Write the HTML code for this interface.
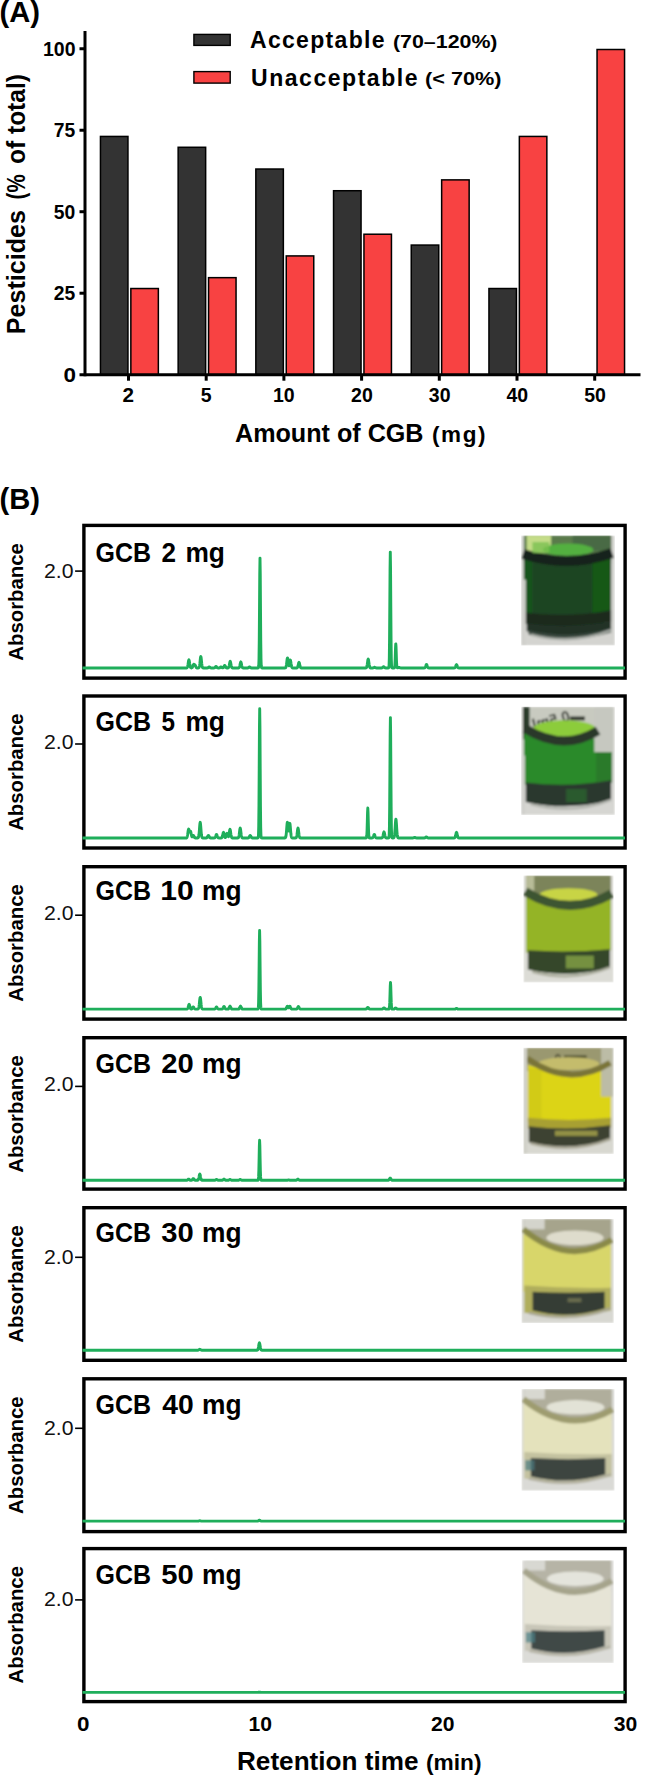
<!DOCTYPE html>
<html><head><meta charset="utf-8"><style>
html,body{margin:0;padding:0;background:#fff;width:645px;height:1778px;overflow:hidden}
svg{display:block}
text{font-family:"Liberation Sans", sans-serif}
</style></head><body>
<svg width="645" height="1778" viewBox="0 0 645 1778">
<defs><filter id="vb" x="-5%" y="-5%" width="110%" height="110%"><feGaussianBlur stdDeviation="1.1"/></filter><clipPath id="vc0"><rect width="93.8" height="110.2"/></clipPath><g id="vial0" clip-path="url(#vc0)"><g filter="url(#vb)"><rect x="0.0" y="0.0" width="93.8" height="110.2" fill="#d4d4d0" opacity="1"/><rect x="2.8" y="0.0" width="87.2" height="27.6" fill="#5a7a4c" opacity="1"/><rect x="5.6" y="0.0" width="24.4" height="17.6" fill="#c4dc88" opacity="1"/><rect x="51.6" y="0.0" width="38.5" height="15.4" fill="#4a6a44" opacity="1"/><path d="M2.8,17.6 Q46.4,31.4 90.0,16.5 L90.0,86.0 Q46.4,98.1 2.8,88.2 Z" fill="#1d4424" opacity="1"/><rect x="2.8" y="24.2" width="8.4" height="55.1" fill="#17581c" opacity="0.9"/><rect x="71.3" y="22.0" width="17.8" height="60.6" fill="#145c18" opacity="0.9"/><ellipse cx="46.9" cy="14.3" rx="25.3" ry="6.1" fill="#52b040" opacity="1"/><path d="M1.9,18.7 Q46.9,33.1 91.0,17.6" fill="none" stroke="#18221a" stroke-width="10" opacity="1"/><rect x="11.3" y="6.6" width="16.9" height="11.0" fill="#7cc050" opacity="0.8"/><path d="M3.8,77.1 Q46.9,82.7 90.0,74.9 L90.0,86.0 Q46.9,93.7 3.8,88.2 Z" fill="#1a2c1e" opacity="1"/><path d="M5.6,88.2 Q47.8,93.7 90.0,86.0 L90.0,93.7 Q47.8,105.8 5.6,95.9 Z" fill="#223026" opacity="1"/><path d="M7.5,94.8 Q48.8,104.7 90.0,92.6 L90.0,97.0 Q48.8,109.1 7.5,99.2 Z" fill="#3a4a40" opacity="1"/><path d="M9.4,99.2 Q51.6,110.2 90.0,94.8" fill="none" stroke="#a8aca6" stroke-width="2.5" opacity="1"/><rect x="0.0" y="44.1" width="4.7" height="66.1" fill="#d0d0cc" opacity="1"/></g></g><clipPath id="vc1"><rect width="93.8" height="108.1"/></clipPath><g id="vial1" clip-path="url(#vc1)"><g filter="url(#vb)"><rect x="0.0" y="0.0" width="93.8" height="108.1" fill="#d6d6d2" opacity="1"/><rect x="1.9" y="0.0" width="90.0" height="32.4" fill="#c8cac0" opacity="1"/><rect x="1.9" y="0.0" width="6.6" height="32.4" fill="#2c3a2c" opacity="1"/><text transform="translate(31.0,18.4) rotate(-14) scale(-1,1)" font-size="15" fill="#2a3028" text-anchor="middle" font-weight="bold" style="font-family:Liberation Sans,sans-serif">0.5ml</text><rect x="48.8" y="9.7" width="15.0" height="3.8" fill="#2a3028" opacity="1"/><path d="M2.8,23.8 Q46.9,38.9 91.0,28.1 L91.0,75.7 Q46.9,83.2 2.8,77.8 Z" fill="#2c8a2c" opacity="1"/><rect x="73.2" y="0.0" width="18.8" height="45.4" fill="#c6c8c0" opacity="1"/><rect x="75.0" y="45.4" width="15.9" height="30.3" fill="#2a7a2a" opacity="1"/><ellipse cx="43.1" cy="21.6" rx="31.0" ry="8.1" fill="#8ccc3a" opacity="1"/><path d="M3.8,21.6 Q42.2,45.4 76.9,23.8" fill="none" stroke="#2a382c" stroke-width="9" opacity="1"/><path d="M4.7,75.7 Q47.4,81.1 90.0,73.5 L90.0,93.0 Q47.4,104.9 4.7,95.1 Z" fill="#2a382e" opacity="1"/><rect x="45.0" y="82.2" width="20.6" height="13.0" fill="#2e6a30" opacity="0.7"/><path d="M9.4,97.3 Q51.6,108.1 90.0,93.0" fill="none" stroke="#b0b2ac" stroke-width="2.5" opacity="1"/><rect x="0.0" y="48.6" width="3.8" height="59.5" fill="#d0d0cc" opacity="1"/></g></g><clipPath id="vc2"><rect width="90.2" height="107.0"/></clipPath><g id="vial2" clip-path="url(#vc2)"><g filter="url(#vb)"><rect x="0.0" y="0.0" width="90.2" height="107.0" fill="#dcdcd6" opacity="1"/><rect x="2.7" y="0.0" width="84.8" height="25.7" fill="#7c845a" opacity="1"/><rect x="2.7" y="0.0" width="8.1" height="19.3" fill="#b8bc98" opacity="1"/><path d="M2.7,21.4 Q45.1,37.5 87.5,23.5 L87.5,74.9 Q45.1,80.2 2.7,77.0 Z" fill="#94b428" opacity="1"/><ellipse cx="45.1" cy="19.3" rx="28.9" ry="6.4" fill="#c8d444" opacity="1"/><path d="M1.8,16.1 Q45.1,42.8 88.4,18.2" fill="none" stroke="#3e5432" stroke-width="9" opacity="1"/><path d="M4.5,74.9 Q45.6,77.6 86.6,73.8 L86.6,92.0 Q45.6,103.8 4.5,94.2 Z" fill="#34462c" opacity="1"/><rect x="42.4" y="80.2" width="28.0" height="12.8" fill="#8aaa48" opacity="0.75"/><path d="M9.0,96.3 Q49.6,107.0 86.6,92.0" fill="none" stroke="#aaac9c" stroke-width="2.5" opacity="1"/></g></g><clipPath id="vc3"><rect width="90.4" height="106.1"/></clipPath><g id="vial3" clip-path="url(#vc3)"><g filter="url(#vb)"><rect x="0.0" y="0.0" width="90.4" height="106.1" fill="#d8d8d0" opacity="1"/><rect x="3.6" y="0.0" width="84.1" height="23.3" fill="#9a9870" opacity="1"/><path d="M4.5,17.0 Q46.1,32.9 87.7,19.1 L87.7,72.1 Q46.1,79.6 4.5,74.3 Z" fill="#dcd412" opacity="1"/><rect x="4.5" y="21.2" width="13.6" height="53.1" fill="#d0c814" opacity="0.8"/><rect x="77.7" y="0.0" width="11.8" height="48.8" fill="#bcbca6" opacity="1"/><text transform="translate(34.4,14.9) rotate(0)" font-size="12" fill="#4a4a30" text-anchor="middle" font-weight="bold" style="font-family:Liberation Sans,sans-serif">0</text><rect x="40.7" y="7.4" width="22.6" height="3.2" fill="#5a5a3a" opacity="1"/><ellipse cx="45.2" cy="15.9" rx="30.7" ry="6.4" fill="#c4bc6c" opacity="1"/><path d="M3.6,10.6 Q45.2,40.3 86.8,14.9" fill="none" stroke="#7a7438" stroke-width="6" opacity="1"/><path d="M4.5,70.0 Q46.1,74.3 87.7,70.0 L87.7,79.6 Q46.1,85.4 4.5,80.6 Z" fill="#a8a032" opacity="1"/><path d="M5.4,78.5 Q46.1,83.3 86.8,77.5 L86.8,92.3 Q46.1,104.0 5.4,94.4 Z" fill="#3c4232" opacity="1"/><rect x="31.6" y="82.8" width="42.5" height="5.3" fill="#a8a448" opacity="0.8"/><path d="M7.2,95.5 Q49.7,106.1 86.8,91.2" fill="none" stroke="#a8a694" stroke-width="2.5" opacity="1"/><rect x="0.0" y="0.0" width="3.6" height="106.1" fill="#d0d0c8" opacity="1"/></g></g><clipPath id="vc4"><rect width="92.3" height="104.2"/></clipPath><g id="vial4" clip-path="url(#vc4)"><g filter="url(#vb)"><rect x="0.0" y="0.0" width="92.3" height="104.2" fill="#d8d8d2" opacity="1"/><rect x="2.8" y="0.0" width="86.8" height="31.3" fill="#a6a48c" opacity="1"/><rect x="2.8" y="0.0" width="20.3" height="10.4" fill="#d4d4cc" opacity="1"/><path d="M1.8,14.6 Q45.7,42.7 89.5,25.0 L89.5,72.9 Q45.7,77.1 1.8,72.9 Z" fill="#d8d66a" opacity="1"/><ellipse cx="53.5" cy="18.8" rx="28.6" ry="7.3" fill="#dedccc" opacity="1"/><path d="M1.8,10.4 Q46.1,47.9 90.5,20.8" fill="none" stroke="#8a8a4a" stroke-width="6" opacity="1"/><path d="M2.8,66.7 Q46.1,69.8 89.5,68.8 L89.5,91.7 Q46.1,101.1 2.8,93.8 Z" fill="#b0ae5c" opacity="1"/><path d="M11.1,72.9 Q47.1,75.0 83.1,72.9 L83.1,89.6 Q47.1,101.1 11.1,91.7 Z" fill="#343c34" opacity="1"/><rect x="46.1" y="79.2" width="13.8" height="4.2" fill="#8a8a60" opacity="0.6"/><path d="M7.4,93.8 Q50.8,104.2 88.6,89.6" fill="none" stroke="#a8a690" stroke-width="2.5" opacity="1"/></g></g><clipPath id="vc5"><rect width="93.1" height="101.8"/></clipPath><g id="vial5" clip-path="url(#vc5)"><g filter="url(#vb)"><rect x="0.0" y="0.0" width="93.1" height="101.8" fill="#dadad6" opacity="1"/><rect x="2.8" y="0.0" width="87.5" height="30.5" fill="#b0ae9c" opacity="1"/><rect x="2.8" y="0.0" width="20.5" height="10.2" fill="#d8d8d0" opacity="1"/><path d="M1.9,14.3 Q46.1,41.7 90.3,24.4 L90.3,69.2 Q46.1,73.3 1.9,69.2 Z" fill="#e4e2bc" opacity="1"/><ellipse cx="54.0" cy="18.3" rx="28.9" ry="7.1" fill="#e2e2d6" opacity="1"/><path d="M1.9,10.2 Q46.6,46.8 91.2,20.4" fill="none" stroke="#9e9c70" stroke-width="6" opacity="1"/><path d="M2.8,63.1 Q46.6,66.2 90.3,65.2 L90.3,87.5 Q46.6,96.7 2.8,89.6 Z" fill="#c4c2a0" opacity="1"/><path d="M9.3,69.2 Q46.6,71.3 83.8,69.2 L83.8,85.5 Q46.6,96.7 9.3,87.5 Z" fill="#3c4440" opacity="1"/><rect x="3.7" y="71.3" width="9.3" height="10.2" fill="#4a7a80" opacity="0.7"/><path d="M7.4,89.6 Q51.2,99.8 89.4,85.5" fill="none" stroke="#b0ae9c" stroke-width="2.5" opacity="1"/></g></g><clipPath id="vc6"><rect width="91.7" height="102.9"/></clipPath><g id="vial6" clip-path="url(#vc6)"><g filter="url(#vb)"><rect x="0.0" y="0.0" width="91.7" height="102.9" fill="#dcdcd8" opacity="1"/><rect x="2.8" y="0.0" width="86.2" height="30.9" fill="#b6b4a6" opacity="1"/><rect x="2.8" y="0.0" width="20.2" height="10.3" fill="#d8d8d2" opacity="1"/><path d="M1.8,14.4 Q45.4,42.2 88.9,24.7 L88.9,70.0 Q45.4,74.1 1.8,70.0 Z" fill="#e6e4d6" opacity="1"/><ellipse cx="53.2" cy="18.5" rx="28.4" ry="7.2" fill="#e4e4dc" opacity="1"/><path d="M1.8,10.3 Q45.8,47.3 89.9,20.6" fill="none" stroke="#a6a48c" stroke-width="6" opacity="1"/><path d="M2.8,63.8 Q45.8,66.9 88.9,65.9 L88.9,88.5 Q45.8,97.8 2.8,90.6 Z" fill="#c8c6b8" opacity="1"/><path d="M9.2,70.0 Q45.8,72.0 82.5,70.0 L82.5,86.4 Q45.8,97.8 9.2,88.5 Z" fill="#404846" opacity="1"/><rect x="3.7" y="72.0" width="9.2" height="10.3" fill="#4a8088" opacity="0.7"/><path d="M7.3,90.6 Q50.4,100.8 88.0,86.4" fill="none" stroke="#b4b2a4" stroke-width="2.5" opacity="1"/></g></g></defs>
<rect x="100.45" y="136.43" width="27.50" height="238.27" fill="#333333" stroke="#000" stroke-width="1.5"/>
<rect x="130.85" y="288.52" width="27.50" height="86.18" fill="#f84242" stroke="#000" stroke-width="1.5"/>
<rect x="178.15" y="147.28" width="27.50" height="227.41" fill="#333333" stroke="#000" stroke-width="1.5"/>
<rect x="208.55" y="277.66" width="27.50" height="97.04" fill="#f84242" stroke="#000" stroke-width="1.5"/>
<rect x="255.85" y="169.03" width="27.50" height="205.67" fill="#333333" stroke="#000" stroke-width="1.5"/>
<rect x="286.25" y="255.92" width="27.50" height="118.78" fill="#f84242" stroke="#000" stroke-width="1.5"/>
<rect x="333.55" y="190.73" width="27.50" height="183.97" fill="#333333" stroke="#000" stroke-width="1.5"/>
<rect x="363.95" y="234.22" width="27.50" height="140.48" fill="#f84242" stroke="#000" stroke-width="1.5"/>
<rect x="411.25" y="245.07" width="27.50" height="129.63" fill="#333333" stroke="#000" stroke-width="1.5"/>
<rect x="441.65" y="179.88" width="27.50" height="194.82" fill="#f84242" stroke="#000" stroke-width="1.5"/>
<rect x="488.95" y="288.52" width="27.50" height="86.18" fill="#333333" stroke="#000" stroke-width="1.5"/>
<rect x="519.35" y="136.43" width="27.50" height="238.27" fill="#f84242" stroke="#000" stroke-width="1.5"/>
<rect x="597.05" y="49.50" width="27.50" height="325.20" fill="#f84242" stroke="#000" stroke-width="1.5"/>
<line x1="85" y1="31" x2="85" y2="376.2" stroke="#000" stroke-width="3"/>
<line x1="79.5" y1="374.7" x2="640.5" y2="374.7" stroke="#000" stroke-width="3"/>
<line x1="79.5" y1="293.21" x2="85" y2="293.21" stroke="#000" stroke-width="3"/>
<line x1="79.5" y1="211.72" x2="85" y2="211.72" stroke="#000" stroke-width="3"/>
<line x1="79.5" y1="130.24" x2="85" y2="130.24" stroke="#000" stroke-width="3"/>
<line x1="79.5" y1="48.75" x2="85" y2="48.75" stroke="#000" stroke-width="3"/>
<line x1="128.50" y1="374.7" x2="128.50" y2="380.7" stroke="#000" stroke-width="3"/>
<text x="122.50" y="401.90" font-size="19.5" font-weight="bold" textLength="11.50" lengthAdjust="spacingAndGlyphs" fill="#000">2</text>
<line x1="206.20" y1="374.7" x2="206.20" y2="380.7" stroke="#000" stroke-width="3"/>
<text x="200.70" y="401.90" font-size="19.5" font-weight="bold" fill="#000">5</text>
<line x1="283.90" y1="374.7" x2="283.90" y2="380.7" stroke="#000" stroke-width="3"/>
<text x="272.90" y="401.90" font-size="19.5" font-weight="bold" fill="#000">10</text>
<line x1="361.60" y1="374.7" x2="361.60" y2="380.7" stroke="#000" stroke-width="3"/>
<text x="351.10" y="401.90" font-size="19.5" font-weight="bold" fill="#000">20</text>
<line x1="439.30" y1="374.7" x2="439.30" y2="380.7" stroke="#000" stroke-width="3"/>
<text x="428.80" y="401.90" font-size="19.5" font-weight="bold" fill="#000">30</text>
<line x1="517.00" y1="374.7" x2="517.00" y2="380.7" stroke="#000" stroke-width="3"/>
<text x="506.50" y="401.90" font-size="19.5" font-weight="bold" fill="#000">40</text>
<line x1="594.70" y1="374.7" x2="594.70" y2="380.7" stroke="#000" stroke-width="3"/>
<text x="584.20" y="401.90" font-size="19.5" font-weight="bold" fill="#000">50</text>
<text x="63.60" y="381.80" font-size="19.5" font-weight="bold" textLength="12.50" lengthAdjust="spacingAndGlyphs" fill="#000">0</text>
<text x="53.80" y="300.31" font-size="19.5" font-weight="bold" textLength="21.50" lengthAdjust="spacingAndGlyphs" fill="#000">25</text>
<text x="53.80" y="218.82" font-size="19.5" font-weight="bold" textLength="21.50" lengthAdjust="spacingAndGlyphs" fill="#000">50</text>
<text x="53.80" y="137.34" font-size="19.5" font-weight="bold" textLength="21.50" lengthAdjust="spacingAndGlyphs" fill="#000">75</text>
<text x="43.00" y="55.85" font-size="19.5" font-weight="bold" textLength="32.50" lengthAdjust="spacingAndGlyphs" fill="#000">100</text>
<text transform="rotate(-90)" x="-334.20" y="24.50" font-size="25" font-weight="bold" textLength="124.10" lengthAdjust="spacingAndGlyphs">Pesticides</text>
<text transform="rotate(-90)" x="-199.40" y="24.50" font-size="25" font-weight="bold" textLength="25.10" lengthAdjust="spacingAndGlyphs">(%</text>
<text transform="rotate(-90)" x="-164.00" y="24.50" font-size="25" font-weight="bold" textLength="89.90" lengthAdjust="spacingAndGlyphs">of total)</text>
<text x="235.00" y="441.80" font-size="25" font-weight="bold" textLength="188.50" lengthAdjust="spacingAndGlyphs" fill="#000">Amount of CGB</text>
<text x="432.00" y="441.80" font-size="22.5" font-weight="bold" textLength="53.50" lengthAdjust="spacing" fill="#000">(mg)</text>
<rect x="193.9" y="34.4" width="36.3" height="11" fill="#333333" stroke="#000" stroke-width="1.4"/>
<rect x="193.9" y="71.6" width="36.3" height="11.5" fill="#f84242" stroke="#000" stroke-width="1.4"/>
<text x="250.00" y="47.80" font-size="23" font-weight="bold" textLength="134.50" lengthAdjust="spacing" fill="#000">Acceptable</text>
<text x="393.00" y="47.60" font-size="18.5" font-weight="bold" textLength="104.50" lengthAdjust="spacingAndGlyphs" fill="#000">(70–120%)</text>
<text x="251.00" y="85.70" font-size="23" font-weight="bold" textLength="166.50" lengthAdjust="spacing" fill="#000">Unacceptable</text>
<text x="425.00" y="85.40" font-size="18.5" font-weight="bold" textLength="76.50" lengthAdjust="spacingAndGlyphs" fill="#000">(&lt; 70%)</text>
<text x="-0.50" y="21.60" font-size="29" font-weight="bold" textLength="40.50" lengthAdjust="spacingAndGlyphs" fill="#000">(A)</text>
<text x="-0.50" y="508.80" font-size="29" font-weight="bold" textLength="40.50" lengthAdjust="spacingAndGlyphs" fill="#000">(B)</text>
<rect x="83.90" y="525.40" width="541.20" height="152.70" fill="#fff" stroke="#000" stroke-width="3.4"/>
<path d="M82.50,668.0 90.50,668.0 98.50,668.0 106.50,668.0 114.50,668.0 122.50,668.0 130.50,668.0 138.50,668.0 146.50,668.0 154.50,668.0 162.50,668.0 170.50,668.0 178.50,668.0 184.90,668.0 185.15,668.0 185.40,668.0 185.65,668.0 185.90,668.0 186.15,668.0 186.40,668.0 186.50,668.0 186.65,668.0 186.90,667.9 187.15,667.6 187.40,667.2 187.65,666.3 187.90,665.0 188.15,663.4 188.40,661.6 188.65,660.3 188.90,659.8 189.15,660.3 189.40,661.6 189.60,663.0 189.65,663.4 189.85,664.7 189.90,665.0 190.10,666.1 190.15,666.3 190.35,667.0 190.40,667.2 190.60,667.6 190.65,667.6 190.85,667.8 190.90,667.9 191.00,667.9 191.10,667.9 191.15,667.9 191.25,668.0 191.35,668.0 191.40,668.0 191.50,668.0 191.60,667.9 191.65,667.9 191.75,667.9 191.85,667.9 191.90,667.8 192.00,667.8 192.10,667.7 192.15,667.6 192.25,667.5 192.35,667.3 192.40,667.3 192.50,667.1 192.60,666.8 192.65,666.7 192.75,666.5 192.85,666.2 192.90,666.0 193.00,665.7 193.10,665.5 193.25,665.1 193.35,664.8 193.50,664.6 193.60,664.4 193.75,664.3 193.85,664.3 194.00,664.3 194.10,664.4 194.25,664.5 194.35,664.5 194.50,664.6 194.60,664.6 194.75,664.7 194.85,664.8 195.00,665.0 195.10,665.1 195.25,665.4 195.35,665.6 195.50,665.9 195.60,666.1 195.75,666.5 195.85,666.7 196.00,667.1 196.10,667.2 196.25,667.5 196.35,667.6 196.50,667.7 196.60,667.8 196.75,667.9 196.80,667.9 196.85,667.9 197.00,668.0 197.05,668.0 197.10,668.0 197.25,668.0 197.30,668.0 197.35,668.0 197.50,668.0 197.55,668.0 197.60,668.0 197.75,668.0 197.80,668.0 198.00,668.0 198.05,668.0 198.25,668.0 198.30,668.0 198.50,667.9 198.55,667.9 198.75,667.8 198.80,667.8 199.00,667.6 199.05,667.5 199.30,666.9 199.55,665.7 199.80,663.9 200.05,661.6 200.30,659.2 200.55,657.3 200.80,656.6 201.05,657.3 201.30,659.2 201.55,661.6 201.80,663.9 202.05,665.7 202.30,666.9 202.50,667.4 202.55,667.5 202.80,667.8 203.05,667.9 203.30,668.0 203.55,668.0 203.80,668.0 204.05,668.0 204.30,668.0 204.55,668.0 204.80,668.0 205.20,668.0 205.45,668.0 205.70,668.0 205.95,668.0 206.20,668.0 206.45,668.0 206.70,668.0 206.95,668.0 207.20,668.0 207.45,668.0 207.70,667.9 207.95,667.8 208.20,667.6 208.45,667.4 208.70,667.1 208.95,667.0 209.20,666.9 209.45,667.0 209.70,667.1 209.95,667.4 210.20,667.6 210.45,667.8 210.50,667.8 210.70,667.9 210.95,668.0 211.20,668.0 211.45,668.0 211.70,668.0 211.95,668.0 212.00,668.0 212.20,668.0 212.25,668.0 212.45,668.0 212.50,668.0 212.70,668.0 212.75,668.0 212.95,668.0 213.00,668.0 213.20,668.0 213.25,668.0 213.50,668.0 213.75,668.0 214.00,668.0 214.25,667.9 214.50,667.8 214.75,667.7 215.00,667.4 215.25,667.1 215.50,666.8 215.75,666.5 216.00,666.4 216.25,666.5 216.50,666.8 216.75,667.1 217.00,667.4 217.25,667.7 217.50,667.8 217.75,667.9 218.00,668.0 218.25,668.0 218.50,668.0 218.75,668.0 219.00,668.0 219.25,668.0 219.50,667.9 219.75,667.8 220.00,667.6 220.25,667.4 220.50,667.1 220.70,667.0 220.75,667.0 220.95,666.9 221.00,666.9 221.20,666.9 221.25,667.0 221.45,667.1 221.50,667.1 221.70,667.3 221.75,667.4 221.95,667.6 222.00,667.6 222.20,667.7 222.25,667.8 222.45,667.9 222.50,667.9 222.70,667.9 222.75,667.9 222.95,667.9 223.00,667.8 223.20,667.7 223.25,667.7 223.45,667.5 223.50,667.4 223.70,667.1 223.75,667.0 223.95,666.5 224.00,666.4 224.20,666.0 224.25,665.9 224.45,665.6 224.50,665.5 224.70,665.4 224.75,665.4 224.95,665.6 225.00,665.6 225.20,666.0 225.45,666.5 225.70,667.1 225.95,667.5 226.20,667.7 226.45,667.9 226.50,667.9 226.70,668.0 226.95,668.0 227.20,668.0 227.45,668.0 227.70,668.0 227.95,668.0 228.20,667.9 228.45,667.7 228.70,667.3 228.95,666.6 229.20,665.6 229.45,664.2 229.70,662.8 229.95,661.7 230.20,661.3 230.45,661.7 230.70,662.8 230.95,664.2 231.20,665.6 231.45,666.6 231.70,667.3 231.95,667.7 232.20,667.9 232.45,668.0 232.70,668.0 232.95,668.0 233.20,668.0 233.45,668.0 233.70,668.0 233.95,668.0 234.20,668.0 234.50,668.0 236.80,668.0 237.05,668.0 237.30,668.0 237.55,668.0 237.80,668.0 238.05,668.0 238.30,668.0 238.55,668.0 238.80,667.9 239.05,667.7 239.30,667.4 239.55,666.8 239.80,665.8 240.05,664.6 240.30,663.3 240.55,662.3 240.80,661.9 241.05,662.3 241.30,663.3 241.55,664.6 241.80,665.8 242.05,666.8 242.30,667.4 242.50,667.7 242.55,667.7 242.80,667.9 243.05,668.0 243.30,668.0 243.55,668.0 243.80,668.0 244.05,668.0 244.30,668.0 244.55,668.0 244.80,668.0 245.50,668.0 245.75,668.0 246.00,668.0 246.25,668.0 246.50,668.0 246.75,668.0 247.00,668.0 247.25,668.0 247.50,668.0 247.75,668.0 248.00,667.9 248.25,667.8 248.50,667.6 248.75,667.4 249.00,667.1 249.25,667.0 249.50,666.9 249.75,667.0 250.00,667.1 250.25,667.4 250.50,667.6 250.75,667.8 251.00,667.9 251.25,668.0 251.50,668.0 251.75,668.0 252.00,668.0 252.25,668.0 252.50,668.0 252.75,668.0 253.00,668.0 253.25,668.0 253.50,668.0 256.00,668.0 256.25,668.0 256.50,668.0 256.75,668.0 257.00,668.0 257.25,668.0 257.50,668.0 257.75,668.0 258.00,668.0 258.25,667.9 258.50,667.6 258.75,665.7 259.00,658.7 259.25,640.6 259.50,608.7 259.75,573.8 260.00,558.1 260.25,573.8 260.50,608.7 260.75,640.6 261.00,658.7 261.25,665.7 261.50,667.6 261.75,667.9 262.00,668.0 262.25,668.0 262.50,668.0 262.75,668.0 263.00,668.0 263.25,668.0 263.50,668.0 263.75,668.0 264.00,668.0 266.50,668.0 274.50,668.0 282.50,668.0 283.50,668.0 283.75,668.0 284.00,668.0 284.25,668.0 284.50,668.0 284.75,668.0 285.00,668.0 285.25,667.9 285.50,667.8 285.75,667.6 286.00,667.0 286.25,665.9 286.30,665.7 286.50,664.4 286.55,664.0 286.75,662.3 286.80,661.9 287.00,660.2 287.05,659.8 287.25,658.5 287.30,658.3 287.50,657.9 287.55,657.9 287.75,658.5 287.80,658.8 288.00,660.1 288.05,660.5 288.25,662.2 288.30,662.6 288.50,664.1 288.55,664.4 288.75,665.3 288.80,665.4 289.00,665.6 289.05,665.5 289.25,665.0 289.30,664.7 289.50,663.7 289.55,663.4 289.75,662.1 289.80,661.8 290.00,660.7 290.05,660.5 290.25,660.0 290.30,660.0 290.50,660.3 290.55,660.5 290.75,661.5 290.80,661.8 291.00,663.1 291.05,663.5 291.25,664.8 291.30,665.1 291.50,666.2 291.55,666.4 291.80,667.2 292.05,667.6 292.30,667.9 292.55,668.0 292.80,668.0 293.05,668.0 293.30,668.0 293.55,668.0 293.80,668.0 294.05,668.0 294.30,668.0 295.00,668.0 295.25,668.0 295.50,668.0 295.75,668.0 296.00,668.0 296.25,668.0 296.50,668.0 296.75,668.0 297.00,667.9 297.25,667.8 297.50,667.4 297.75,666.9 298.00,666.0 298.25,664.8 298.50,663.7 298.75,662.7 299.00,662.4 299.25,662.7 299.50,663.7 299.75,664.8 300.00,666.0 300.25,666.9 300.50,667.4 300.75,667.8 301.00,667.9 301.25,668.0 301.50,668.0 301.75,668.0 302.00,668.0 302.25,668.0 302.50,668.0 302.75,668.0 303.00,668.0 306.50,668.0 314.50,668.0 322.50,668.0 330.50,668.0 338.50,668.0 346.50,668.0 354.50,668.0 362.50,668.0 364.20,668.0 364.45,668.0 364.70,668.0 364.95,668.0 365.20,668.0 365.45,668.0 365.70,668.0 365.95,667.9 366.20,667.8 366.45,667.6 366.70,667.1 366.95,666.2 367.20,664.8 367.45,663.0 367.70,661.1 367.95,659.6 368.20,659.1 368.45,659.6 368.70,661.1 368.95,663.0 369.20,664.8 369.45,666.2 369.70,667.1 369.95,667.6 370.20,667.8 370.45,667.9 370.50,668.0 370.60,668.0 370.70,668.0 370.85,668.0 370.95,668.0 371.10,668.0 371.20,668.0 371.35,668.0 371.45,668.0 371.60,668.0 371.70,668.0 371.85,668.0 371.95,668.0 372.10,668.0 372.20,668.0 372.35,668.0 372.60,668.0 372.85,668.0 373.10,667.9 373.35,667.9 373.60,667.7 373.85,667.6 374.10,667.5 374.35,667.3 374.60,667.3 374.85,667.3 375.10,667.5 375.35,667.6 375.60,667.7 375.85,667.9 376.10,667.9 376.35,668.0 376.60,668.0 376.85,668.0 377.10,668.0 377.35,668.0 377.60,668.0 377.85,668.0 378.10,668.0 378.35,668.0 378.50,668.0 378.60,668.0 379.60,668.0 379.85,668.0 380.10,668.0 380.35,668.0 380.60,668.0 380.85,668.0 381.10,668.0 381.35,668.0 381.60,668.0 381.85,667.9 382.10,667.9 382.35,667.7 382.60,667.5 382.85,667.3 383.10,667.0 383.35,666.8 383.60,666.7 383.85,666.8 384.10,667.0 384.35,667.3 384.60,667.5 384.85,667.7 385.10,667.9 385.35,667.9 385.60,668.0 385.85,668.0 386.10,668.0 386.30,668.0 386.35,668.0 386.50,668.0 386.55,668.0 386.60,668.0 386.80,668.0 386.85,668.0 387.05,668.0 387.10,668.0 387.30,668.0 387.35,668.0 387.55,668.0 387.60,668.0 387.80,668.0 388.05,668.0 388.30,668.0 388.55,667.9 388.80,667.6 389.05,665.6 389.30,658.2 389.55,639.1 389.80,605.5 390.05,568.7 390.30,552.1 390.55,568.7 390.80,605.5 391.05,639.1 391.30,658.2 391.55,665.6 391.80,667.6 392.05,667.9 392.30,668.0 392.55,668.0 392.80,668.0 393.05,668.0 393.30,668.0 393.55,668.0 393.80,668.0 394.05,668.0 394.30,667.9 394.50,667.6 394.55,667.5 394.80,666.0 395.00,663.0 395.05,662.0 395.25,656.6 395.30,655.0 395.50,648.7 395.55,647.3 395.75,644.0 395.80,643.9 396.00,646.2 396.05,647.3 396.25,653.4 396.30,655.0 396.50,660.8 396.55,662.0 396.75,665.4 396.80,666.0 397.00,667.3 397.05,667.5 397.25,667.8 397.30,667.9 397.50,667.9 397.55,667.9 397.75,667.9 397.80,667.9 398.00,667.8 398.05,667.8 398.25,667.7 398.30,667.6 398.50,667.5 398.55,667.5 398.75,667.4 398.80,667.4 399.00,667.4 399.05,667.4 399.25,667.4 399.30,667.5 399.50,667.5 399.55,667.6 399.75,667.7 399.80,667.7 400.00,667.8 400.25,667.9 400.50,667.9 400.75,668.0 401.00,668.0 401.25,668.0 401.50,668.0 401.75,668.0 402.00,668.0 402.25,668.0 402.50,668.0 402.75,668.0 403.00,668.0 410.50,668.0 418.50,668.0 422.50,668.0 422.75,668.0 423.00,668.0 423.25,668.0 423.50,668.0 423.75,668.0 424.00,668.0 424.25,668.0 424.50,667.9 424.75,667.8 425.00,667.6 425.25,667.3 425.50,666.7 425.75,666.0 426.00,665.2 426.25,664.6 426.50,664.4 426.75,664.6 427.00,665.2 427.25,666.0 427.50,666.7 427.75,667.3 428.00,667.6 428.25,667.8 428.50,667.9 428.75,668.0 429.00,668.0 429.25,668.0 429.50,668.0 429.75,668.0 430.00,668.0 430.25,668.0 430.50,668.0 434.50,668.0 442.50,668.0 450.50,668.0 452.50,668.0 452.75,668.0 453.00,668.0 453.25,668.0 453.50,668.0 453.75,668.0 454.00,668.0 454.25,668.0 454.50,667.9 454.75,667.9 455.00,667.7 455.25,667.3 455.50,666.8 455.75,666.1 456.00,665.4 456.25,664.8 456.50,664.6 456.75,664.8 457.00,665.4 457.25,666.1 457.50,666.8 457.75,667.3 458.00,667.7 458.25,667.9 458.50,667.9 458.75,668.0 459.00,668.0 459.25,668.0 459.50,668.0 459.75,668.0 460.00,668.0 460.25,668.0 460.50,668.0 466.50,668.0 474.50,668.0 482.50,668.0 490.50,668.0 498.50,668.0 506.50,668.0 514.50,668.0 522.50,668.0 530.50,668.0 538.50,668.0 546.50,668.0 554.50,668.0 562.50,668.0 570.50,668.0 578.50,668.0 586.50,668.0 594.50,668.0 602.50,668.0 610.50,668.0 618.50,668.0 625.00,668.0" fill="none" stroke="#1fae5b" stroke-width="2.9" stroke-linejoin="round"/>
<line x1="75.1" y1="571.10" x2="83" y2="571.10" stroke="#000" stroke-width="1.6"/>
<text x="44.00" y="577.70" font-size="20.5" textLength="29.50" lengthAdjust="spacingAndGlyphs" fill="#111">2.0</text>
<text x="95.50" y="561.60" font-size="28" font-weight="bold" textLength="55.50" lengthAdjust="spacingAndGlyphs" fill="#000">GCB</text>
<text x="161.50" y="561.60" font-size="28" font-weight="bold" textLength="14.50" lengthAdjust="spacingAndGlyphs" fill="#000">2</text>
<text x="185.40" y="561.60" font-size="27" font-weight="bold" textLength="39.50" lengthAdjust="spacingAndGlyphs" fill="#000">mg</text>
<text transform="rotate(-90)" x="-660.65" y="22.70" font-size="21" font-weight="bold" textLength="117.50" lengthAdjust="spacingAndGlyphs">Absorbance</text>
<g transform="translate(521.1,535.4)"><use href="#vial0"/></g>
<rect x="83.90" y="696.00" width="541.20" height="152.00" fill="#fff" stroke="#000" stroke-width="3.4"/>
<path d="M82.50,838.0 90.50,838.0 98.50,838.0 106.50,838.0 114.50,838.0 122.50,838.0 130.50,838.0 138.50,838.0 146.50,838.0 154.50,838.0 162.50,838.0 170.50,838.0 178.50,838.0 184.60,838.0 184.85,838.0 185.10,838.0 185.35,838.0 185.60,838.0 185.85,838.0 186.10,838.0 186.35,838.0 186.50,837.9 186.60,837.9 186.75,837.7 186.85,837.6 187.00,837.4 187.10,837.1 187.25,836.6 187.35,836.2 187.50,835.5 187.60,834.9 187.75,833.8 187.85,833.1 188.00,832.0 188.10,831.2 188.25,830.3 188.35,829.8 188.50,829.3 188.60,829.1 188.75,829.2 188.85,829.4 189.00,829.9 189.10,830.4 189.25,831.0 189.30,831.2 189.35,831.4 189.50,831.8 189.55,831.9 189.60,832.0 189.75,832.0 189.80,832.0 189.85,831.9 190.00,831.7 190.05,831.6 190.10,831.5 190.25,831.3 190.30,831.2 190.35,831.2 190.50,831.2 190.55,831.2 190.60,831.3 190.75,831.7 190.80,831.9 190.85,832.1 191.00,832.8 191.05,833.1 191.10,833.4 191.25,834.2 191.30,834.5 191.35,834.8 191.50,835.5 191.55,835.7 191.60,835.9 191.75,836.4 191.80,836.6 191.85,836.7 192.00,836.9 192.05,836.9 192.10,836.9 192.25,836.9 192.30,836.8 192.35,836.8 192.50,836.5 192.55,836.4 192.60,836.3 192.75,836.1 192.80,836.0 193.00,835.6 193.05,835.6 193.25,835.4 193.30,835.4 193.50,835.5 193.55,835.6 193.75,835.9 193.80,836.0 194.00,836.4 194.05,836.5 194.25,837.0 194.30,837.1 194.50,837.4 194.55,837.5 194.80,837.7 195.05,837.9 195.30,838.0 195.55,838.0 195.80,838.0 196.05,838.0 196.20,838.0 196.30,838.0 196.45,838.0 196.55,838.0 196.70,838.0 196.80,838.0 196.95,838.0 197.05,838.0 197.20,838.0 197.30,838.0 197.45,838.0 197.70,838.0 197.95,837.9 198.20,837.7 198.45,837.3 198.70,836.4 198.95,834.8 199.20,832.3 199.45,829.2 199.70,825.8 199.95,823.3 200.20,822.3 200.45,823.3 200.70,825.8 200.95,829.2 201.20,832.3 201.45,834.8 201.70,836.4 201.95,837.3 202.20,837.7 202.45,837.9 202.50,837.9 202.70,838.0 202.95,838.0 203.20,838.0 203.45,838.0 203.70,838.0 203.95,838.0 204.20,838.0 204.40,838.0 204.65,838.0 204.90,838.0 205.15,838.0 205.40,838.0 205.65,838.0 205.90,838.0 206.15,838.0 206.40,838.0 206.65,837.9 206.90,837.7 207.15,837.5 207.40,837.1 207.65,836.5 207.90,836.0 208.15,835.6 208.40,835.4 208.65,835.6 208.90,836.0 209.15,836.5 209.40,837.1 209.65,837.5 209.90,837.7 210.15,837.9 210.40,838.0 210.50,838.0 210.65,838.0 210.90,838.0 211.15,838.0 211.40,838.0 211.65,838.0 211.90,838.0 212.15,838.0 212.40,838.0 212.50,838.0 212.75,838.0 213.00,838.0 213.25,838.0 213.50,838.0 213.75,838.0 214.00,838.0 214.25,838.0 214.50,837.9 214.75,837.8 215.00,837.6 215.25,837.3 215.50,836.7 215.75,836.0 216.00,835.2 216.25,834.6 216.50,834.4 216.75,834.6 217.00,835.2 217.25,836.0 217.50,836.7 217.75,837.3 218.00,837.6 218.25,837.8 218.50,837.9 218.75,838.0 219.00,838.0 219.25,838.0 219.50,838.0 219.75,838.0 220.00,838.0 220.25,838.0 220.50,838.0 220.75,838.0 221.00,838.0 221.25,838.0 221.50,837.9 221.75,837.8 222.00,837.4 222.25,836.9 222.50,836.0 222.75,834.8 223.00,833.7 223.25,832.7 223.50,832.4 223.75,832.7 224.00,833.7 224.25,834.8 224.50,836.0 224.75,836.8 225.00,837.4 225.25,837.6 225.50,837.4 225.75,837.0 226.00,836.3 226.25,835.4 226.50,834.4 226.75,833.7 227.00,833.4 227.25,833.7 227.50,834.4 227.75,835.4 228.00,836.2 228.25,836.7 228.50,836.7 228.75,836.0 229.00,834.8 229.25,833.1 229.50,831.3 229.75,829.8 230.00,829.3 230.25,829.8 230.50,831.3 230.75,833.1 231.00,834.9 231.25,836.2 231.50,837.1 231.75,837.6 232.00,837.9 232.25,838.0 232.50,838.0 232.75,838.0 233.00,838.0 233.25,838.0 233.50,838.0 233.75,838.0 234.00,838.0 234.50,838.0 236.20,838.0 236.45,838.0 236.70,838.0 236.95,838.0 237.20,838.0 237.45,838.0 237.70,838.0 237.95,837.9 238.20,837.8 238.45,837.6 238.70,837.0 238.95,836.0 239.20,834.4 239.45,832.4 239.70,830.3 239.95,828.7 240.20,828.1 240.45,828.7 240.70,830.3 240.95,832.4 241.20,834.4 241.45,836.0 241.70,837.0 241.95,837.6 242.20,837.8 242.45,837.9 242.50,838.0 242.70,838.0 242.95,838.0 243.20,838.0 243.45,838.0 243.70,838.0 243.95,838.0 244.20,838.0 246.20,838.0 246.45,838.0 246.70,838.0 246.95,838.0 247.20,838.0 247.45,838.0 247.70,838.0 247.95,838.0 248.20,838.0 248.45,837.9 248.70,837.7 248.95,837.5 249.20,837.1 249.45,836.5 249.70,836.0 249.95,835.6 250.20,835.4 250.45,835.6 250.50,835.6 250.70,836.0 250.95,836.5 251.20,837.1 251.45,837.5 251.70,837.7 251.95,837.9 252.20,838.0 252.45,838.0 252.70,838.0 252.95,838.0 253.20,838.0 253.45,838.0 253.70,838.0 253.95,838.0 254.20,838.0 255.70,838.0 255.95,838.0 256.20,838.0 256.45,838.0 256.70,838.0 256.95,838.0 257.20,838.0 257.45,838.0 257.70,838.0 257.95,837.9 258.20,837.5 258.45,835.3 258.50,834.3 258.70,827.1 258.95,805.8 259.20,768.3 259.45,727.3 259.70,708.8 259.95,727.3 260.20,768.3 260.45,805.8 260.70,827.1 260.95,835.3 261.20,837.5 261.45,837.9 261.70,838.0 261.95,838.0 262.20,838.0 262.45,838.0 262.70,838.0 262.95,838.0 263.20,838.0 263.45,838.0 263.70,838.0 266.50,838.0 274.50,838.0 282.50,838.0 283.40,838.0 283.65,838.0 283.90,838.0 284.15,838.0 284.40,838.0 284.65,838.0 284.90,838.0 285.15,837.9 285.40,837.7 285.65,837.3 285.80,836.8 285.90,836.4 286.05,835.6 286.15,834.8 286.30,833.4 286.40,832.3 286.55,830.5 286.65,829.2 286.80,827.1 286.90,825.8 287.05,824.1 287.15,823.3 287.30,822.4 287.40,822.3 287.55,822.6 287.65,823.1 287.80,824.4 287.90,825.5 288.05,827.2 288.15,828.2 288.30,829.7 288.40,830.4 288.55,831.0 288.65,831.0 288.80,830.6 288.90,830.0 289.05,828.8 289.15,827.8 289.30,826.3 289.40,825.3 289.55,824.2 289.65,823.6 289.80,823.4 289.90,823.5 290.05,824.3 290.15,825.1 290.30,826.7 290.40,827.9 290.50,829.1 290.55,829.8 290.65,831.0 290.80,832.7 290.90,833.8 291.05,835.0 291.15,835.7 291.30,836.5 291.40,836.9 291.55,837.4 291.80,837.8 292.05,837.9 292.30,838.0 292.55,838.0 292.80,838.0 293.05,838.0 293.30,838.0 293.55,838.0 293.80,838.0 294.00,838.0 294.25,838.0 294.50,838.0 294.75,838.0 295.00,838.0 295.25,838.0 295.50,838.0 295.75,837.9 296.00,837.8 296.25,837.6 296.50,837.0 296.75,836.0 297.00,834.4 297.25,832.4 297.50,830.3 297.75,828.7 298.00,828.1 298.25,828.7 298.50,830.3 298.75,832.4 299.00,834.4 299.25,836.0 299.50,837.0 299.75,837.6 300.00,837.8 300.25,837.9 300.50,838.0 300.75,838.0 301.00,838.0 301.25,838.0 301.50,838.0 301.75,838.0 302.00,838.0 306.50,838.0 314.50,838.0 322.50,838.0 330.50,838.0 338.50,838.0 346.50,838.0 354.50,838.0 362.50,838.0 363.80,838.0 364.05,838.0 364.30,838.0 364.55,838.0 364.80,838.0 365.05,838.0 365.30,838.0 365.55,838.0 365.80,838.0 366.05,838.0 366.30,837.9 366.55,837.4 366.80,835.5 367.05,830.5 367.30,821.8 367.55,812.3 367.80,808.0 368.05,812.3 368.30,821.8 368.55,830.5 368.80,835.5 369.05,837.4 369.30,837.9 369.55,838.0 369.80,838.0 370.05,838.0 370.30,838.0 370.50,838.0 370.55,838.0 370.80,838.0 371.05,838.0 371.30,838.0 371.55,838.0 371.80,838.0 372.05,838.0 372.30,837.9 372.55,837.8 372.80,837.6 373.05,837.3 373.30,836.7 373.55,836.0 373.80,835.2 374.05,834.6 374.30,834.4 374.55,834.6 374.80,835.2 375.05,836.0 375.30,836.7 375.55,837.3 375.80,837.6 376.05,837.8 376.30,837.9 376.55,838.0 376.80,838.0 377.05,838.0 377.30,838.0 377.55,838.0 377.80,838.0 378.05,838.0 378.30,838.0 378.50,838.0 380.00,838.0 380.25,838.0 380.50,838.0 380.75,838.0 381.00,838.0 381.25,838.0 381.50,838.0 381.75,838.0 382.00,837.9 382.25,837.7 382.50,837.4 382.75,836.8 383.00,835.8 383.25,834.6 383.50,833.3 383.75,832.3 384.00,831.9 384.25,832.3 384.50,833.3 384.75,834.6 385.00,835.8 385.25,836.8 385.50,837.4 385.75,837.7 386.00,837.9 386.25,838.0 386.40,838.0 386.50,838.0 386.65,838.0 386.75,838.0 386.90,838.0 387.00,838.0 387.15,838.0 387.25,838.0 387.40,838.0 387.50,838.0 387.65,838.0 387.75,838.0 387.90,838.0 388.00,838.0 388.15,838.0 388.40,838.0 388.65,837.9 388.90,837.5 389.15,835.5 389.40,827.8 389.65,808.0 389.90,773.1 390.15,734.8 390.40,717.6 390.65,734.8 390.90,773.1 391.15,808.0 391.40,827.8 391.65,835.5 391.90,837.5 392.15,837.9 392.40,838.0 392.65,838.0 392.90,838.0 393.15,838.0 393.40,838.0 393.65,837.9 393.90,837.7 394.15,837.2 394.40,836.1 394.50,835.4 394.65,834.2 394.90,831.2 395.15,827.4 395.40,823.4 395.65,820.3 395.90,819.1 396.15,820.3 396.40,823.4 396.65,827.4 396.90,831.2 397.15,834.2 397.40,836.1 397.65,837.2 397.90,837.7 398.15,837.9 398.40,838.0 398.65,838.0 398.90,838.0 399.15,838.0 399.40,838.0 399.65,838.0 399.90,838.0 402.50,838.0 410.50,838.0 410.70,838.0 410.95,838.0 411.20,838.0 411.45,838.0 411.70,838.0 411.95,838.0 412.20,838.0 412.45,838.0 412.70,838.0 412.95,838.0 413.20,837.9 413.45,837.9 413.70,837.8 413.95,837.7 414.20,837.5 414.45,837.4 414.70,837.4 414.95,837.4 415.20,837.5 415.45,837.7 415.70,837.8 415.95,837.9 416.20,837.9 416.45,838.0 416.70,838.0 416.95,838.0 417.20,838.0 417.45,838.0 417.70,838.0 417.95,838.0 418.20,838.0 418.45,838.0 418.50,838.0 418.70,838.0 422.30,838.0 422.55,838.0 422.80,838.0 423.05,838.0 423.30,838.0 423.55,838.0 423.80,838.0 424.05,838.0 424.30,838.0 424.55,838.0 424.80,837.9 425.05,837.8 425.30,837.6 425.55,837.4 425.80,837.1 426.05,837.0 426.30,836.9 426.50,836.9 426.55,837.0 426.80,837.1 427.05,837.4 427.30,837.6 427.55,837.8 427.80,837.9 428.05,838.0 428.30,838.0 428.55,838.0 428.80,838.0 429.05,838.0 429.30,838.0 429.55,838.0 429.80,838.0 430.05,838.0 430.30,838.0 434.50,838.0 442.50,838.0 450.50,838.0 452.50,838.0 452.75,838.0 453.00,838.0 453.25,838.0 453.50,838.0 453.75,838.0 454.00,838.0 454.25,838.0 454.50,837.9 454.75,837.8 455.00,837.4 455.25,836.9 455.50,836.0 455.75,834.8 456.00,833.7 456.25,832.7 456.50,832.4 456.75,832.7 457.00,833.7 457.25,834.8 457.50,836.0 457.75,836.9 458.00,837.4 458.25,837.8 458.50,837.9 458.75,838.0 459.00,838.0 459.25,838.0 459.50,838.0 459.75,838.0 460.00,838.0 460.25,838.0 460.50,838.0 466.50,838.0 474.50,838.0 482.50,838.0 490.50,838.0 498.50,838.0 506.50,838.0 514.50,838.0 522.50,838.0 530.50,838.0 538.50,838.0 546.50,838.0 554.50,838.0 562.50,838.0 570.50,838.0 578.50,838.0 586.50,838.0 594.50,838.0 602.50,838.0 610.50,838.0 618.50,838.0 625.00,838.0" fill="none" stroke="#1fae5b" stroke-width="2.9" stroke-linejoin="round"/>
<line x1="75.1" y1="744.00" x2="83" y2="744.00" stroke="#000" stroke-width="1.6"/>
<text x="44.00" y="748.50" font-size="20.5" textLength="29.50" lengthAdjust="spacingAndGlyphs" fill="#111">2.0</text>
<text x="95.50" y="731.40" font-size="28" font-weight="bold" textLength="55.50" lengthAdjust="spacingAndGlyphs" fill="#000">GCB</text>
<text x="161.50" y="731.40" font-size="28" font-weight="bold" textLength="13.50" lengthAdjust="spacingAndGlyphs" fill="#000">5</text>
<text x="185.40" y="731.40" font-size="27" font-weight="bold" textLength="39.50" lengthAdjust="spacingAndGlyphs" fill="#000">mg</text>
<text transform="rotate(-90)" x="-830.85" y="22.70" font-size="21" font-weight="bold" textLength="117.50" lengthAdjust="spacingAndGlyphs">Absorbance</text>
<g transform="translate(521.1,706.8)"><use href="#vial1"/></g>
<rect x="83.90" y="866.70" width="541.20" height="152.40" fill="#fff" stroke="#000" stroke-width="3.4"/>
<path d="M82.50,1009.1 90.50,1009.1 98.50,1009.1 106.50,1009.1 114.50,1009.1 122.50,1009.1 130.50,1009.1 138.50,1009.1 146.50,1009.1 154.50,1009.1 162.50,1009.1 170.50,1009.1 178.50,1009.1 185.10,1009.1 185.35,1009.1 185.60,1009.1 185.85,1009.1 186.10,1009.1 186.35,1009.1 186.50,1009.1 186.60,1009.1 186.85,1009.1 187.10,1009.0 187.35,1008.9 187.60,1008.6 187.85,1008.1 188.10,1007.4 188.35,1006.5 188.60,1005.5 188.85,1004.7 189.10,1004.4 189.30,1004.6 189.35,1004.7 189.55,1005.3 189.60,1005.5 189.80,1006.2 189.85,1006.5 190.05,1007.2 190.10,1007.4 190.30,1008.0 190.35,1008.1 190.55,1008.5 190.60,1008.6 190.80,1008.9 190.85,1008.9 191.05,1009.0 191.10,1009.0 191.30,1009.0 191.35,1009.0 191.55,1009.0 191.60,1009.0 191.80,1008.9 191.85,1008.8 192.05,1008.7 192.10,1008.6 192.30,1008.3 192.35,1008.2 192.55,1007.9 192.60,1007.8 192.80,1007.4 192.85,1007.3 193.05,1007.0 193.10,1007.0 193.30,1006.9 193.55,1007.0 193.80,1007.4 194.05,1007.9 194.30,1008.3 194.50,1008.6 194.55,1008.7 194.80,1008.9 195.05,1009.0 195.30,1009.1 195.55,1009.1 195.80,1009.1 196.05,1009.1 196.20,1009.1 196.30,1009.1 196.45,1009.1 196.55,1009.1 196.70,1009.1 196.80,1009.1 196.95,1009.1 197.05,1009.1 197.20,1009.1 197.30,1009.1 197.45,1009.1 197.70,1009.1 197.95,1009.0 198.20,1008.9 198.45,1008.6 198.70,1007.9 198.95,1006.7 199.20,1004.9 199.45,1002.5 199.70,1000.0 199.95,998.1 200.20,997.4 200.45,998.1 200.70,1000.0 200.95,1002.5 201.20,1004.9 201.45,1006.7 201.70,1007.9 201.95,1008.6 202.20,1008.9 202.45,1009.0 202.50,1009.0 202.70,1009.1 202.95,1009.1 203.20,1009.1 203.45,1009.1 203.70,1009.1 203.95,1009.1 204.20,1009.1 210.50,1009.1 212.50,1009.1 212.75,1009.1 213.00,1009.1 213.25,1009.1 213.50,1009.1 213.75,1009.1 214.00,1009.1 214.25,1009.1 214.50,1009.1 214.75,1009.0 215.00,1008.9 215.25,1008.7 215.50,1008.3 215.75,1007.9 216.00,1007.4 216.25,1007.0 216.50,1006.9 216.75,1007.0 217.00,1007.4 217.25,1007.9 217.50,1008.3 217.75,1008.7 218.00,1008.9 218.25,1009.0 218.50,1009.1 218.75,1009.1 219.00,1009.1 219.25,1009.1 219.50,1009.1 219.75,1009.1 220.00,1009.1 220.25,1009.1 220.50,1009.1 220.75,1009.1 221.00,1009.1 221.25,1009.1 221.50,1009.1 221.75,1009.1 222.00,1009.1 222.25,1009.0 222.50,1008.8 222.75,1008.6 223.00,1008.1 223.25,1007.6 223.50,1007.0 223.75,1006.6 224.00,1006.4 224.25,1006.6 224.50,1007.0 224.75,1007.6 225.00,1008.1 225.25,1008.6 225.50,1008.8 225.75,1009.0 226.00,1009.1 226.25,1009.1 226.50,1009.1 226.75,1009.1 227.00,1009.1 227.25,1009.1 227.50,1009.1 227.75,1009.1 228.00,1009.0 228.25,1009.0 228.50,1008.8 228.75,1008.5 229.00,1008.0 229.25,1007.4 229.50,1006.8 229.75,1006.3 230.00,1006.1 230.25,1006.3 230.50,1006.8 230.75,1007.4 231.00,1008.0 231.25,1008.5 231.50,1008.8 231.75,1009.0 232.00,1009.0 232.25,1009.1 232.50,1009.1 232.75,1009.1 233.00,1009.1 233.25,1009.1 233.50,1009.1 233.75,1009.1 234.00,1009.1 234.50,1009.1 236.50,1009.1 236.75,1009.1 237.00,1009.1 237.25,1009.1 237.50,1009.1 237.75,1009.1 238.00,1009.1 238.25,1009.1 238.50,1009.0 238.75,1009.0 239.00,1008.8 239.25,1008.5 239.50,1008.0 239.75,1007.4 240.00,1006.8 240.25,1006.3 240.50,1006.1 240.75,1006.3 241.00,1006.8 241.25,1007.4 241.50,1008.0 241.75,1008.5 242.00,1008.8 242.25,1009.0 242.50,1009.0 242.75,1009.1 243.00,1009.1 243.25,1009.1 243.50,1009.1 243.75,1009.1 244.00,1009.1 244.25,1009.1 244.50,1009.1 250.50,1009.1 255.60,1009.1 255.85,1009.1 256.10,1009.1 256.35,1009.1 256.60,1009.1 256.85,1009.1 257.10,1009.1 257.35,1009.1 257.60,1009.1 257.85,1009.1 258.10,1008.8 258.35,1007.4 258.50,1005.1 258.60,1002.4 258.85,989.5 259.10,966.7 259.35,941.7 259.60,930.5 259.85,941.7 260.10,966.7 260.35,989.5 260.60,1002.4 260.85,1007.4 261.10,1008.8 261.35,1009.1 261.60,1009.1 261.85,1009.1 262.10,1009.1 262.35,1009.1 262.60,1009.1 262.85,1009.1 263.10,1009.1 263.35,1009.1 263.60,1009.1 266.50,1009.1 274.50,1009.1 282.50,1009.1 283.40,1009.1 283.65,1009.1 283.90,1009.1 284.15,1009.1 284.40,1009.1 284.65,1009.1 284.90,1009.1 285.15,1009.1 285.40,1009.0 285.65,1009.0 285.80,1008.9 285.90,1008.8 286.05,1008.6 286.15,1008.5 286.30,1008.2 286.40,1008.0 286.55,1007.7 286.65,1007.4 286.80,1007.0 286.90,1006.8 287.05,1006.5 287.15,1006.3 287.30,1006.1 287.40,1006.1 287.55,1006.2 287.65,1006.3 287.80,1006.5 287.90,1006.7 288.05,1007.0 288.15,1007.2 288.30,1007.5 288.40,1007.6 288.55,1007.7 288.65,1007.7 288.80,1007.6 288.90,1007.5 289.05,1007.2 289.15,1007.0 289.30,1006.7 289.40,1006.5 289.55,1006.3 289.65,1006.2 289.80,1006.1 289.90,1006.1 290.05,1006.3 290.15,1006.5 290.30,1006.8 290.40,1007.0 290.50,1007.3 290.55,1007.4 290.65,1007.7 290.80,1008.0 290.90,1008.2 291.05,1008.5 291.15,1008.6 291.30,1008.8 291.40,1008.9 291.55,1009.0 291.80,1009.0 292.05,1009.1 292.30,1009.1 292.55,1009.1 292.80,1009.1 293.05,1009.1 293.30,1009.1 293.55,1009.1 293.80,1009.1 294.40,1009.1 294.65,1009.1 294.90,1009.1 295.15,1009.1 295.40,1009.1 295.65,1009.1 295.90,1009.1 296.15,1009.1 296.40,1009.1 296.65,1009.0 296.90,1008.8 297.15,1008.6 297.40,1008.2 297.65,1007.6 297.90,1007.1 298.15,1006.7 298.40,1006.5 298.50,1006.5 298.65,1006.7 298.90,1007.1 299.15,1007.6 299.40,1008.2 299.65,1008.6 299.90,1008.8 300.15,1009.0 300.40,1009.1 300.65,1009.1 300.90,1009.1 301.15,1009.1 301.40,1009.1 301.65,1009.1 301.90,1009.1 302.15,1009.1 302.40,1009.1 306.50,1009.1 314.50,1009.1 322.50,1009.1 330.50,1009.1 338.50,1009.1 346.50,1009.1 354.50,1009.1 362.50,1009.1 363.80,1009.1 364.05,1009.1 364.30,1009.1 364.55,1009.1 364.80,1009.1 365.05,1009.1 365.30,1009.1 365.55,1009.1 365.80,1009.1 366.05,1009.0 366.30,1008.9 366.55,1008.8 366.80,1008.5 367.05,1008.1 367.30,1007.8 367.55,1007.5 367.80,1007.4 368.05,1007.5 368.30,1007.8 368.55,1008.1 368.80,1008.5 369.05,1008.8 369.30,1008.9 369.55,1009.0 369.80,1009.1 370.05,1009.1 370.30,1009.1 370.50,1009.1 370.55,1009.1 370.80,1009.1 371.05,1009.1 371.30,1009.1 371.55,1009.1 371.80,1009.1 378.50,1009.1 380.00,1009.1 380.25,1009.1 380.50,1009.1 380.75,1009.1 381.00,1009.1 381.25,1009.1 381.50,1009.1 381.75,1009.1 382.00,1009.1 382.25,1009.0 382.50,1009.0 382.75,1008.9 383.00,1008.7 383.25,1008.4 383.50,1008.2 383.75,1008.0 384.00,1007.9 384.25,1008.0 384.50,1008.2 384.75,1008.4 385.00,1008.7 385.25,1008.9 385.50,1009.0 385.75,1009.0 386.00,1009.1 386.25,1009.1 386.50,1009.1 386.75,1009.1 387.00,1009.1 387.25,1009.1 387.50,1009.1 387.75,1009.1 388.00,1009.1 388.25,1009.1 388.50,1009.1 388.75,1009.1 389.00,1009.0 389.25,1008.5 389.50,1006.8 389.75,1002.4 390.00,994.7 390.25,986.2 390.50,982.4 390.75,986.2 391.00,994.7 391.25,1002.4 391.50,1006.8 391.60,1007.8 391.75,1008.5 391.85,1008.8 392.00,1009.0 392.10,1009.1 392.25,1009.1 392.35,1009.1 392.50,1009.1 392.60,1009.1 392.75,1009.1 392.85,1009.1 393.00,1009.1 393.10,1009.1 393.25,1009.1 393.35,1009.1 393.50,1009.1 393.60,1009.1 393.75,1009.1 393.85,1009.1 394.00,1009.0 394.10,1009.0 394.25,1008.9 394.35,1008.9 394.50,1008.8 394.60,1008.7 394.85,1008.5 395.10,1008.2 395.35,1008.1 395.60,1008.0 395.85,1008.1 396.10,1008.2 396.35,1008.5 396.60,1008.7 396.85,1008.9 397.10,1009.0 397.35,1009.1 397.60,1009.1 397.85,1009.1 398.10,1009.1 398.35,1009.1 398.60,1009.1 398.85,1009.1 399.10,1009.1 399.35,1009.1 399.60,1009.1 402.50,1009.1 410.50,1009.1 418.50,1009.1 426.50,1009.1 434.50,1009.1 442.50,1009.1 450.50,1009.1 452.50,1009.1 452.75,1009.1 453.00,1009.1 453.25,1009.1 453.50,1009.1 453.75,1009.1 454.00,1009.1 454.25,1009.1 454.50,1009.1 454.75,1009.1 455.00,1009.0 455.25,1009.0 455.50,1008.8 455.75,1008.7 456.00,1008.6 456.25,1008.4 456.50,1008.4 456.75,1008.4 457.00,1008.6 457.25,1008.7 457.50,1008.8 457.75,1009.0 458.00,1009.0 458.25,1009.1 458.50,1009.1 458.75,1009.1 459.00,1009.1 459.25,1009.1 459.50,1009.1 459.75,1009.1 460.00,1009.1 460.25,1009.1 460.50,1009.1 466.50,1009.1 474.50,1009.1 482.50,1009.1 490.50,1009.1 498.50,1009.1 506.50,1009.1 514.50,1009.1 522.50,1009.1 530.50,1009.1 538.50,1009.1 546.50,1009.1 554.50,1009.1 562.50,1009.1 570.50,1009.1 578.50,1009.1 586.50,1009.1 594.50,1009.1 602.50,1009.1 610.50,1009.1 618.50,1009.1 625.00,1009.1" fill="none" stroke="#1fae5b" stroke-width="2.9" stroke-linejoin="round"/>
<line x1="75.1" y1="915.20" x2="83" y2="915.20" stroke="#000" stroke-width="1.6"/>
<text x="44.00" y="920.20" font-size="20.5" textLength="29.50" lengthAdjust="spacingAndGlyphs" fill="#111">2.0</text>
<text x="95.50" y="900.30" font-size="28" font-weight="bold" textLength="55.50" lengthAdjust="spacingAndGlyphs" fill="#000">GCB</text>
<text x="160.20" y="900.30" font-size="28" font-weight="bold" textLength="33.50" lengthAdjust="spacingAndGlyphs" fill="#000">10</text>
<text x="202.10" y="900.30" font-size="27" font-weight="bold" textLength="39.50" lengthAdjust="spacingAndGlyphs" fill="#000">mg</text>
<text transform="rotate(-90)" x="-1001.75" y="22.70" font-size="21" font-weight="bold" textLength="117.50" lengthAdjust="spacingAndGlyphs">Absorbance</text>
<g transform="translate(523.4,875.4)"><use href="#vial2"/></g>
<rect x="83.90" y="1037.70" width="541.20" height="151.40" fill="#fff" stroke="#000" stroke-width="3.4"/>
<path d="M82.50,1180.3 90.50,1180.3 98.50,1180.3 106.50,1180.3 114.50,1180.3 122.50,1180.3 130.50,1180.3 138.50,1180.3 146.50,1180.3 154.50,1180.3 162.50,1180.3 170.50,1180.3 178.50,1180.3 184.60,1180.3 184.85,1180.3 185.10,1180.3 185.35,1180.3 185.60,1180.3 185.85,1180.3 186.10,1180.3 186.35,1180.3 186.50,1180.3 186.60,1180.3 186.85,1180.2 187.10,1180.2 187.35,1180.1 187.60,1179.9 187.85,1179.6 188.10,1179.4 188.35,1179.2 188.60,1179.1 188.85,1179.2 189.10,1179.4 189.30,1179.6 189.35,1179.6 189.55,1179.8 189.60,1179.9 189.80,1180.0 189.85,1180.1 190.05,1180.2 190.10,1180.2 190.30,1180.2 190.35,1180.2 190.55,1180.3 190.60,1180.3 190.80,1180.3 190.85,1180.3 191.05,1180.3 191.10,1180.3 191.30,1180.3 191.35,1180.3 191.55,1180.2 191.60,1180.2 191.80,1180.1 191.85,1180.1 192.05,1180.0 192.10,1179.9 192.30,1179.7 192.35,1179.6 192.55,1179.3 192.60,1179.3 192.80,1179.0 193.05,1178.7 193.30,1178.6 193.55,1178.7 193.80,1179.0 194.05,1179.3 194.30,1179.7 194.50,1179.9 194.55,1180.0 194.80,1180.1 195.05,1180.2 195.30,1180.3 195.55,1180.3 195.80,1180.3 196.05,1180.3 196.30,1180.3 196.55,1180.3 196.80,1180.3 197.05,1180.3 197.30,1180.3 197.55,1180.3 197.80,1180.2 198.05,1180.0 198.30,1179.7 198.55,1179.0 198.80,1178.0 199.05,1176.8 199.30,1175.4 199.55,1174.4 199.80,1174.0 200.05,1174.4 200.30,1175.4 200.55,1176.8 200.80,1178.0 201.05,1179.0 201.30,1179.7 201.55,1180.0 201.80,1180.2 202.05,1180.3 202.30,1180.3 202.50,1180.3 202.55,1180.3 202.80,1180.3 203.05,1180.3 203.30,1180.3 203.55,1180.3 203.80,1180.3 210.50,1180.3 212.50,1180.3 212.75,1180.3 213.00,1180.3 213.25,1180.3 213.50,1180.3 213.75,1180.3 214.00,1180.3 214.25,1180.3 214.50,1180.3 214.75,1180.3 215.00,1180.2 215.25,1180.1 215.50,1180.0 215.75,1179.8 216.00,1179.6 216.25,1179.5 216.50,1179.4 216.75,1179.5 217.00,1179.6 217.25,1179.8 217.50,1180.0 217.75,1180.1 218.00,1180.2 218.25,1180.3 218.50,1180.3 218.75,1180.3 219.00,1180.3 219.25,1180.3 219.50,1180.3 219.75,1180.3 220.00,1180.3 220.25,1180.3 220.50,1180.3 220.75,1180.3 221.00,1180.3 221.25,1180.3 221.50,1180.3 221.75,1180.3 222.00,1180.3 222.25,1180.2 222.50,1180.2 222.75,1180.1 223.00,1179.9 223.25,1179.6 223.50,1179.4 223.75,1179.2 224.00,1179.1 224.25,1179.2 224.50,1179.4 224.75,1179.6 225.00,1179.9 225.25,1180.1 225.50,1180.2 225.75,1180.2 226.00,1180.3 226.25,1180.3 226.50,1180.3 226.75,1180.3 227.00,1180.3 227.25,1180.3 227.50,1180.3 227.75,1180.3 228.00,1180.3 228.25,1180.3 228.50,1180.2 228.75,1180.1 229.00,1180.0 229.25,1179.8 229.50,1179.6 229.75,1179.5 230.00,1179.4 230.25,1179.5 230.50,1179.6 230.75,1179.8 231.00,1180.0 231.25,1180.1 231.50,1180.2 231.75,1180.3 232.00,1180.3 232.25,1180.3 232.50,1180.3 232.75,1180.3 233.00,1180.3 233.25,1180.3 233.50,1180.3 233.75,1180.3 234.00,1180.3 234.50,1180.3 236.20,1180.3 236.45,1180.3 236.70,1180.3 236.95,1180.3 237.20,1180.3 237.45,1180.3 237.70,1180.3 237.95,1180.3 238.20,1180.3 238.45,1180.3 238.70,1180.2 238.95,1180.1 239.20,1180.0 239.45,1179.8 239.70,1179.6 239.95,1179.5 240.20,1179.4 240.45,1179.5 240.70,1179.6 240.95,1179.8 241.20,1180.0 241.45,1180.1 241.70,1180.2 241.95,1180.3 242.20,1180.3 242.45,1180.3 242.50,1180.3 242.70,1180.3 242.95,1180.3 243.20,1180.3 243.45,1180.3 243.70,1180.3 243.95,1180.3 244.20,1180.3 250.50,1180.3 255.60,1180.3 255.85,1180.3 256.10,1180.3 256.35,1180.3 256.60,1180.3 256.85,1180.3 257.10,1180.3 257.35,1180.3 257.60,1180.3 257.85,1180.3 258.10,1180.1 258.35,1179.5 258.50,1178.3 258.60,1176.9 258.85,1170.3 259.10,1158.7 259.35,1145.9 259.60,1140.2 259.85,1145.9 260.10,1158.7 260.35,1170.3 260.60,1176.9 260.85,1179.5 261.10,1180.1 261.35,1180.3 261.60,1180.3 261.85,1180.3 262.10,1180.3 262.35,1180.3 262.60,1180.3 262.85,1180.3 263.10,1180.3 263.35,1180.3 263.60,1180.3 266.50,1180.3 274.50,1180.3 282.50,1180.3 284.60,1180.3 284.85,1180.3 285.10,1180.3 285.35,1180.3 285.60,1180.3 285.85,1180.3 286.10,1180.3 286.35,1180.3 286.60,1180.3 286.85,1180.3 287.10,1180.3 287.35,1180.2 287.60,1180.2 287.85,1180.1 288.10,1180.0 288.35,1179.9 288.60,1179.9 288.85,1179.9 289.10,1180.0 289.35,1180.1 289.60,1180.2 289.85,1180.2 290.10,1180.3 290.35,1180.3 290.50,1180.3 290.60,1180.3 290.85,1180.3 291.10,1180.3 291.35,1180.3 291.60,1180.3 291.85,1180.3 292.10,1180.3 292.35,1180.3 292.60,1180.3 293.90,1180.3 294.15,1180.3 294.40,1180.3 294.65,1180.3 294.90,1180.3 295.15,1180.3 295.40,1180.3 295.65,1180.3 295.90,1180.3 296.15,1180.2 296.40,1180.2 296.65,1180.1 296.90,1179.9 297.15,1179.6 297.40,1179.4 297.65,1179.2 297.90,1179.1 298.15,1179.2 298.40,1179.4 298.50,1179.5 298.65,1179.6 298.90,1179.9 299.15,1180.1 299.40,1180.2 299.65,1180.2 299.90,1180.3 300.15,1180.3 300.40,1180.3 300.65,1180.3 300.90,1180.3 301.15,1180.3 301.40,1180.3 301.65,1180.3 301.90,1180.3 306.50,1180.3 314.50,1180.3 322.50,1180.3 330.50,1180.3 338.50,1180.3 346.50,1180.3 354.50,1180.3 362.50,1180.3 370.50,1180.3 378.50,1180.3 386.20,1180.3 386.45,1180.3 386.50,1180.3 386.70,1180.3 386.95,1180.3 387.20,1180.3 387.45,1180.3 387.70,1180.3 387.95,1180.3 388.20,1180.3 388.45,1180.2 388.70,1180.1 388.95,1179.9 389.20,1179.5 389.45,1179.1 389.70,1178.6 389.95,1178.2 390.20,1178.1 390.45,1178.2 390.70,1178.6 390.95,1179.1 391.20,1179.5 391.45,1179.9 391.70,1180.1 391.95,1180.2 392.20,1180.3 392.45,1180.3 392.70,1180.3 392.95,1180.3 393.20,1180.3 393.45,1180.3 393.70,1180.3 393.95,1180.3 394.20,1180.3 394.50,1180.3 402.50,1180.3 410.50,1180.3 418.50,1180.3 426.50,1180.3 434.50,1180.3 442.50,1180.3 450.50,1180.3 458.50,1180.3 466.50,1180.3 474.50,1180.3 482.50,1180.3 490.50,1180.3 498.50,1180.3 506.50,1180.3 514.50,1180.3 522.50,1180.3 530.50,1180.3 538.50,1180.3 546.50,1180.3 554.50,1180.3 562.50,1180.3 570.50,1180.3 578.50,1180.3 586.50,1180.3 594.50,1180.3 602.50,1180.3 610.50,1180.3 618.50,1180.3 625.00,1180.3" fill="none" stroke="#1fae5b" stroke-width="2.9" stroke-linejoin="round"/>
<line x1="75.1" y1="1086.40" x2="83" y2="1086.40" stroke="#000" stroke-width="1.6"/>
<text x="44.00" y="1091.10" font-size="20.5" textLength="29.50" lengthAdjust="spacingAndGlyphs" fill="#111">2.0</text>
<text x="95.50" y="1072.60" font-size="28" font-weight="bold" textLength="55.50" lengthAdjust="spacingAndGlyphs" fill="#000">GCB</text>
<text x="161.20" y="1072.60" font-size="28" font-weight="bold" textLength="32.50" lengthAdjust="spacingAndGlyphs" fill="#000">20</text>
<text x="202.10" y="1072.60" font-size="27" font-weight="bold" textLength="39.50" lengthAdjust="spacingAndGlyphs" fill="#000">mg</text>
<text transform="rotate(-90)" x="-1172.75" y="22.70" font-size="21" font-weight="bold" textLength="117.50" lengthAdjust="spacingAndGlyphs">Absorbance</text>
<g transform="translate(523.4,1047.8)"><use href="#vial3"/></g>
<rect x="83.90" y="1207.70" width="541.20" height="152.60" fill="#fff" stroke="#000" stroke-width="3.4"/>
<path d="M82.50,1350.2 90.50,1350.2 98.50,1350.2 106.50,1350.2 114.50,1350.2 122.50,1350.2 130.50,1350.2 138.50,1350.2 146.50,1350.2 154.50,1350.2 162.50,1350.2 170.50,1350.2 178.50,1350.2 186.50,1350.2 194.50,1350.2 195.80,1350.2 196.05,1350.2 196.30,1350.2 196.55,1350.2 196.80,1350.2 197.05,1350.2 197.30,1350.2 197.55,1350.2 197.80,1350.2 198.05,1350.2 198.30,1350.1 198.55,1350.0 198.80,1349.9 199.05,1349.7 199.30,1349.5 199.55,1349.4 199.80,1349.3 200.05,1349.4 200.30,1349.5 200.55,1349.7 200.80,1349.9 201.05,1350.0 201.30,1350.1 201.55,1350.2 201.80,1350.2 202.05,1350.2 202.30,1350.2 202.50,1350.2 202.55,1350.2 202.80,1350.2 203.05,1350.2 203.30,1350.2 203.55,1350.2 203.80,1350.2 210.50,1350.2 218.50,1350.2 226.50,1350.2 234.50,1350.2 242.50,1350.2 250.50,1350.2 255.40,1350.2 255.65,1350.2 255.90,1350.2 256.15,1350.2 256.40,1350.2 256.65,1350.2 256.90,1350.2 257.15,1350.2 257.40,1350.1 257.65,1349.9 257.90,1349.5 258.15,1348.7 258.40,1347.5 258.50,1347.0 258.65,1346.0 258.90,1344.5 259.15,1343.3 259.40,1342.8 259.65,1343.3 259.90,1344.5 260.15,1346.0 260.40,1347.5 260.65,1348.7 260.90,1349.5 261.15,1349.9 261.40,1350.1 261.65,1350.2 261.90,1350.2 262.15,1350.2 262.40,1350.2 262.65,1350.2 262.90,1350.2 263.15,1350.2 263.40,1350.2 266.50,1350.2 274.50,1350.2 282.50,1350.2 290.50,1350.2 298.50,1350.2 306.50,1350.2 314.50,1350.2 322.50,1350.2 330.50,1350.2 338.50,1350.2 346.50,1350.2 354.50,1350.2 362.50,1350.2 370.50,1350.2 378.50,1350.2 386.50,1350.2 394.50,1350.2 402.50,1350.2 410.50,1350.2 418.50,1350.2 426.50,1350.2 434.50,1350.2 442.50,1350.2 450.50,1350.2 458.50,1350.2 466.50,1350.2 474.50,1350.2 482.50,1350.2 490.50,1350.2 498.50,1350.2 506.50,1350.2 514.50,1350.2 522.50,1350.2 530.50,1350.2 538.50,1350.2 546.50,1350.2 554.50,1350.2 562.50,1350.2 570.50,1350.2 578.50,1350.2 586.50,1350.2 594.50,1350.2 602.50,1350.2 610.50,1350.2 618.50,1350.2 625.00,1350.2" fill="none" stroke="#1fae5b" stroke-width="2.9" stroke-linejoin="round"/>
<line x1="75.1" y1="1257.30" x2="83" y2="1257.30" stroke="#000" stroke-width="1.6"/>
<text x="44.00" y="1263.50" font-size="20.5" textLength="29.50" lengthAdjust="spacingAndGlyphs" fill="#111">2.0</text>
<text x="95.50" y="1242.40" font-size="28" font-weight="bold" textLength="55.50" lengthAdjust="spacingAndGlyphs" fill="#000">GCB</text>
<text x="161.20" y="1242.40" font-size="28" font-weight="bold" textLength="32.50" lengthAdjust="spacingAndGlyphs" fill="#000">30</text>
<text x="202.10" y="1242.40" font-size="27" font-weight="bold" textLength="39.50" lengthAdjust="spacingAndGlyphs" fill="#000">mg</text>
<text transform="rotate(-90)" x="-1342.75" y="22.70" font-size="21" font-weight="bold" textLength="117.50" lengthAdjust="spacingAndGlyphs">Absorbance</text>
<g transform="translate(521.5,1218.9)"><use href="#vial4"/></g>
<rect x="83.90" y="1378.80" width="541.20" height="152.80" fill="#fff" stroke="#000" stroke-width="3.4"/>
<path d="M82.50,1521.1 90.50,1521.1 98.50,1521.1 106.50,1521.1 114.50,1521.1 122.50,1521.1 130.50,1521.1 138.50,1521.1 146.50,1521.1 154.50,1521.1 162.50,1521.1 170.50,1521.1 178.50,1521.1 186.50,1521.1 194.50,1521.1 195.80,1521.1 196.05,1521.1 196.30,1521.1 196.55,1521.1 196.80,1521.1 197.05,1521.1 197.30,1521.1 197.55,1521.1 197.80,1521.1 198.05,1521.1 198.30,1521.1 198.55,1521.0 198.80,1521.0 199.05,1520.9 199.30,1520.9 199.55,1520.8 199.80,1520.8 200.05,1520.8 200.30,1520.9 200.55,1520.9 200.80,1521.0 201.05,1521.0 201.30,1521.1 201.55,1521.1 201.80,1521.1 202.05,1521.1 202.30,1521.1 202.50,1521.1 202.55,1521.1 202.80,1521.1 203.05,1521.1 203.30,1521.1 203.55,1521.1 203.80,1521.1 210.50,1521.1 218.50,1521.1 226.50,1521.1 234.50,1521.1 242.50,1521.1 250.50,1521.1 255.40,1521.1 255.65,1521.1 255.90,1521.1 256.15,1521.1 256.40,1521.1 256.65,1521.1 256.90,1521.1 257.15,1521.1 257.40,1521.1 257.65,1521.1 257.90,1521.0 258.15,1520.9 258.40,1520.8 258.50,1520.7 258.65,1520.6 258.90,1520.4 259.15,1520.3 259.40,1520.2 259.65,1520.3 259.90,1520.4 260.15,1520.6 260.40,1520.8 260.65,1520.9 260.90,1521.0 261.15,1521.1 261.40,1521.1 261.65,1521.1 261.90,1521.1 262.15,1521.1 262.40,1521.1 262.65,1521.1 262.90,1521.1 263.15,1521.1 263.40,1521.1 266.50,1521.1 274.50,1521.1 282.50,1521.1 290.50,1521.1 298.50,1521.1 306.50,1521.1 314.50,1521.1 322.50,1521.1 330.50,1521.1 338.50,1521.1 346.50,1521.1 354.50,1521.1 362.50,1521.1 370.50,1521.1 378.50,1521.1 386.50,1521.1 394.50,1521.1 402.50,1521.1 410.50,1521.1 418.50,1521.1 426.50,1521.1 434.50,1521.1 442.50,1521.1 450.50,1521.1 458.50,1521.1 466.50,1521.1 474.50,1521.1 482.50,1521.1 490.50,1521.1 498.50,1521.1 506.50,1521.1 514.50,1521.1 522.50,1521.1 530.50,1521.1 538.50,1521.1 546.50,1521.1 554.50,1521.1 562.50,1521.1 570.50,1521.1 578.50,1521.1 586.50,1521.1 594.50,1521.1 602.50,1521.1 610.50,1521.1 618.50,1521.1 625.00,1521.1" fill="none" stroke="#1fae5b" stroke-width="2.9" stroke-linejoin="round"/>
<line x1="75.1" y1="1428.30" x2="83" y2="1428.30" stroke="#000" stroke-width="1.6"/>
<text x="44.00" y="1434.50" font-size="20.5" textLength="29.50" lengthAdjust="spacingAndGlyphs" fill="#111">2.0</text>
<text x="95.50" y="1413.80" font-size="28" font-weight="bold" textLength="55.50" lengthAdjust="spacingAndGlyphs" fill="#000">GCB</text>
<text x="162.20" y="1413.80" font-size="28" font-weight="bold" textLength="31.50" lengthAdjust="spacingAndGlyphs" fill="#000">40</text>
<text x="202.10" y="1413.80" font-size="27" font-weight="bold" textLength="39.50" lengthAdjust="spacingAndGlyphs" fill="#000">mg</text>
<text transform="rotate(-90)" x="-1513.95" y="22.70" font-size="21" font-weight="bold" textLength="117.50" lengthAdjust="spacingAndGlyphs">Absorbance</text>
<g transform="translate(521.5,1388.9)"><use href="#vial5"/></g>
<rect x="83.90" y="1548.60" width="541.20" height="153.00" fill="#fff" stroke="#000" stroke-width="3.4"/>
<path d="M82.50,1692.4 90.50,1692.4 98.50,1692.4 106.50,1692.4 114.50,1692.4 122.50,1692.4 130.50,1692.4 138.50,1692.4 146.50,1692.4 154.50,1692.4 162.50,1692.4 170.50,1692.4 178.50,1692.4 186.50,1692.4 194.50,1692.4 202.50,1692.4 210.50,1692.4 218.50,1692.4 226.50,1692.4 234.50,1692.4 242.50,1692.4 250.50,1692.4 255.40,1692.4 255.65,1692.4 255.90,1692.4 256.15,1692.4 256.40,1692.4 256.65,1692.4 256.90,1692.4 257.15,1692.4 257.40,1692.4 257.65,1692.4 257.90,1692.4 258.15,1692.3 258.40,1692.3 258.50,1692.3 258.65,1692.2 258.90,1692.2 259.15,1692.1 259.40,1692.1 259.65,1692.1 259.90,1692.2 260.15,1692.2 260.40,1692.3 260.65,1692.3 260.90,1692.4 261.15,1692.4 261.40,1692.4 261.65,1692.4 261.90,1692.4 262.15,1692.4 262.40,1692.4 262.65,1692.4 262.90,1692.4 263.15,1692.4 263.40,1692.4 266.50,1692.4 274.50,1692.4 282.50,1692.4 290.50,1692.4 298.50,1692.4 306.50,1692.4 314.50,1692.4 322.50,1692.4 330.50,1692.4 338.50,1692.4 346.50,1692.4 354.50,1692.4 362.50,1692.4 370.50,1692.4 378.50,1692.4 386.50,1692.4 394.50,1692.4 402.50,1692.4 410.50,1692.4 418.50,1692.4 426.50,1692.4 434.50,1692.4 442.50,1692.4 450.50,1692.4 458.50,1692.4 466.50,1692.4 474.50,1692.4 482.50,1692.4 490.50,1692.4 498.50,1692.4 506.50,1692.4 514.50,1692.4 522.50,1692.4 530.50,1692.4 538.50,1692.4 546.50,1692.4 554.50,1692.4 562.50,1692.4 570.50,1692.4 578.50,1692.4 586.50,1692.4 594.50,1692.4 602.50,1692.4 610.50,1692.4 618.50,1692.4 625.00,1692.4" fill="none" stroke="#1fae5b" stroke-width="2.9" stroke-linejoin="round"/>
<line x1="75.1" y1="1599.90" x2="83" y2="1599.90" stroke="#000" stroke-width="1.6"/>
<text x="44.00" y="1605.70" font-size="20.5" textLength="29.50" lengthAdjust="spacingAndGlyphs" fill="#111">2.0</text>
<text x="95.50" y="1584.20" font-size="28" font-weight="bold" textLength="55.50" lengthAdjust="spacingAndGlyphs" fill="#000">GCB</text>
<text x="161.20" y="1584.20" font-size="28" font-weight="bold" textLength="32.50" lengthAdjust="spacingAndGlyphs" fill="#000">50</text>
<text x="202.10" y="1584.20" font-size="27" font-weight="bold" textLength="39.50" lengthAdjust="spacingAndGlyphs" fill="#000">mg</text>
<text transform="rotate(-90)" x="-1683.55" y="22.70" font-size="21" font-weight="bold" textLength="117.50" lengthAdjust="spacingAndGlyphs">Absorbance</text>
<g transform="translate(522.1,1560.2)"><use href="#vial6"/></g>
<text x="77.00" y="1731.40" font-size="20" font-weight="bold" textLength="12.50" lengthAdjust="spacingAndGlyphs" fill="#000">0</text>
<text x="248.50" y="1731.40" font-size="20" font-weight="bold" textLength="23.50" lengthAdjust="spacingAndGlyphs" fill="#000">10</text>
<text x="431.05" y="1731.40" font-size="20" font-weight="bold" textLength="23.50" lengthAdjust="spacingAndGlyphs" fill="#000">20</text>
<text x="613.85" y="1731.40" font-size="20" font-weight="bold" textLength="23.50" lengthAdjust="spacingAndGlyphs" fill="#000">30</text>
<text x="237.00" y="1770.40" font-size="25" font-weight="bold" textLength="181.50" lengthAdjust="spacingAndGlyphs" fill="#000">Retention time</text>
<text x="426.00" y="1770.40" font-size="22" font-weight="bold" textLength="55.50" lengthAdjust="spacingAndGlyphs" fill="#000">(min)</text>
</svg>
</body></html>
